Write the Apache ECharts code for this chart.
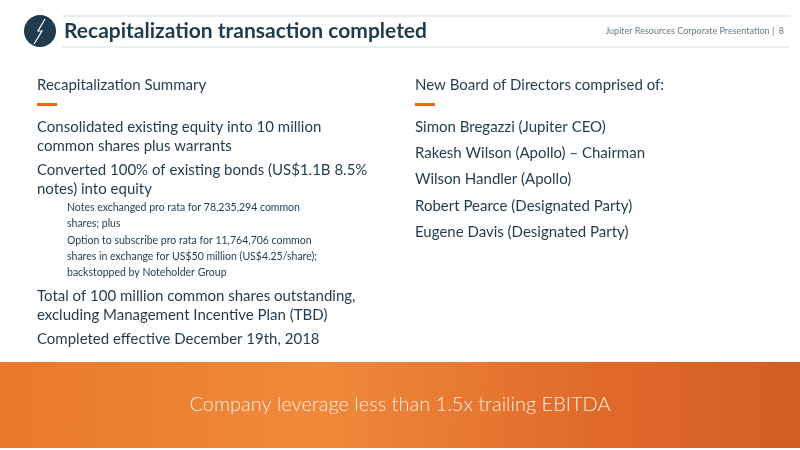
<!DOCTYPE html>
<html><head><meta charset="utf-8">
<script src="https://cdn.jsdelivr.net/npm/echarts@6/dist/echarts.min.js"></script>
<style>html,body{margin:0;padding:0;background:#fff}#c{width:800px;height:450px}</style>
</head><body><div id="c"></div>
<script>
var title = "Recapitalization transaction completed";
var footerNote = "Jupiter Resources Corporate Presentation |  8";
var leftHeading = "Recapitalization Summary";
var rightHeading = "New Board of Directors comprised of:";
var leftItems = [
  {lvl:1, lines:["Consolidated existing equity into 10 million","common shares plus warrants"]},
  {lvl:1, lines:["Converted 100% of existing bonds (US$1.1B 8.5%","notes) into equity"]},
  {lvl:2, lines:["Notes exchanged pro rata for 78,235,294 common","shares; plus"]},
  {lvl:2, lines:["Option to subscribe pro rata for 11,764,706 common","shares in exchange for US$50 million (US$4.25/share);","backstopped by Noteholder Group"]},
  {lvl:1, lines:["Total of 100 million common shares outstanding,","excluding Management Incentive Plan (TBD)"]},
  {lvl:1, lines:["Completed effective December 19th, 2018"]}
];
var rightItems = ["Simon Bregazzi (Jupiter CEO)","Rakesh Wilson (Apollo) \u2013 Chairman","Wilson Handler (Apollo)","Robert Pearce (Designated Party)","Eugene Davis (Designated Party)"];
var banner = "Company leverage less than 1.5x trailing EBITDA";

var dark = "#1f3b4d", font = "Lato, 'Noto Sans', sans-serif";
var g = [];
g.push({type:'line',shape:{x1:62,y1:16,x2:790,y2:16},style:{stroke:'#cfe3e8',lineWidth:1}});
g.push({type:'line',shape:{x1:62,y1:47,x2:790,y2:47},style:{stroke:'#cfe3e8',lineWidth:1}});
g.push({type:'circle',shape:{cx:40,cy:31,r:16},style:{fill:'#1f3b4d'}});
g.push({type:'polyline',shape:{points:[[45,19],[38,31],[42,31],[34,44]]},style:{stroke:'#fff',lineWidth:1.2,fill:null}});
g.push({type:'text',x:64,y:31,style:{text:title,fill:dark,font:"bold 21px "+font,textVerticalAlign:'middle'}});
g.push({type:'text',x:784,y:31,style:{text:footerNote,fill:'#6a7a85',font:"9px "+font,textAlign:'right',textVerticalAlign:'middle'}});
g.push({type:'text',x:37,y:85,style:{text:leftHeading,fill:dark,font:"15px "+font,textVerticalAlign:'middle'}});
g.push({type:'text',x:415,y:85,style:{text:rightHeading,fill:dark,font:"15px "+font,textVerticalAlign:'middle'}});
g.push({type:'rect',shape:{x:37,y:103,width:20,height:3},style:{fill:'#e8681e'}});
g.push({type:'rect',shape:{x:415,y:103,width:20,height:3},style:{fill:'#e8681e'}});
var y = 127, prev = 0;
leftItems.forEach(function(it,i){
  var big = it.lvl===1, lh = big?19:16;
  if(i>0){
    if(big && prev===1) y += 24; else if(!big && prev===1) y += 19; else if(!big) y += 17; else y += 23;
  }
  it.lines.forEach(function(l,j){
    if(j>0) y += lh;
    g.push({type:'text',x:big?37:67,y:y,style:{text:l,fill:dark,font:(big?"15px ":"10.5px ")+font,textVerticalAlign:'middle'}});
  });
  prev = it.lvl;
});
rightItems.forEach(function(t,i){
  g.push({type:'text',x:415,y:127+i*26.3,style:{text:t,fill:dark,font:"15px "+font,textVerticalAlign:'middle'}});
});
g.push({type:'rect',shape:{x:0,y:362,width:800,height:86},style:{fill:new echarts.graphic.LinearGradient(0,0,1,0.3,[{offset:0,color:'#e9782c'},{offset:0.4,color:'#f0893a'},{offset:0.75,color:'#e0692a'},{offset:1,color:'#d45d22'}])}});
g.push({type:'text',x:400,y:405,style:{text:banner,fill:'#fdeee2',font:"300 20px "+font,textAlign:'center',textVerticalAlign:'middle'}});
echarts.init(document.getElementById('c')).setOption({graphic:g});
</script></body></html>
